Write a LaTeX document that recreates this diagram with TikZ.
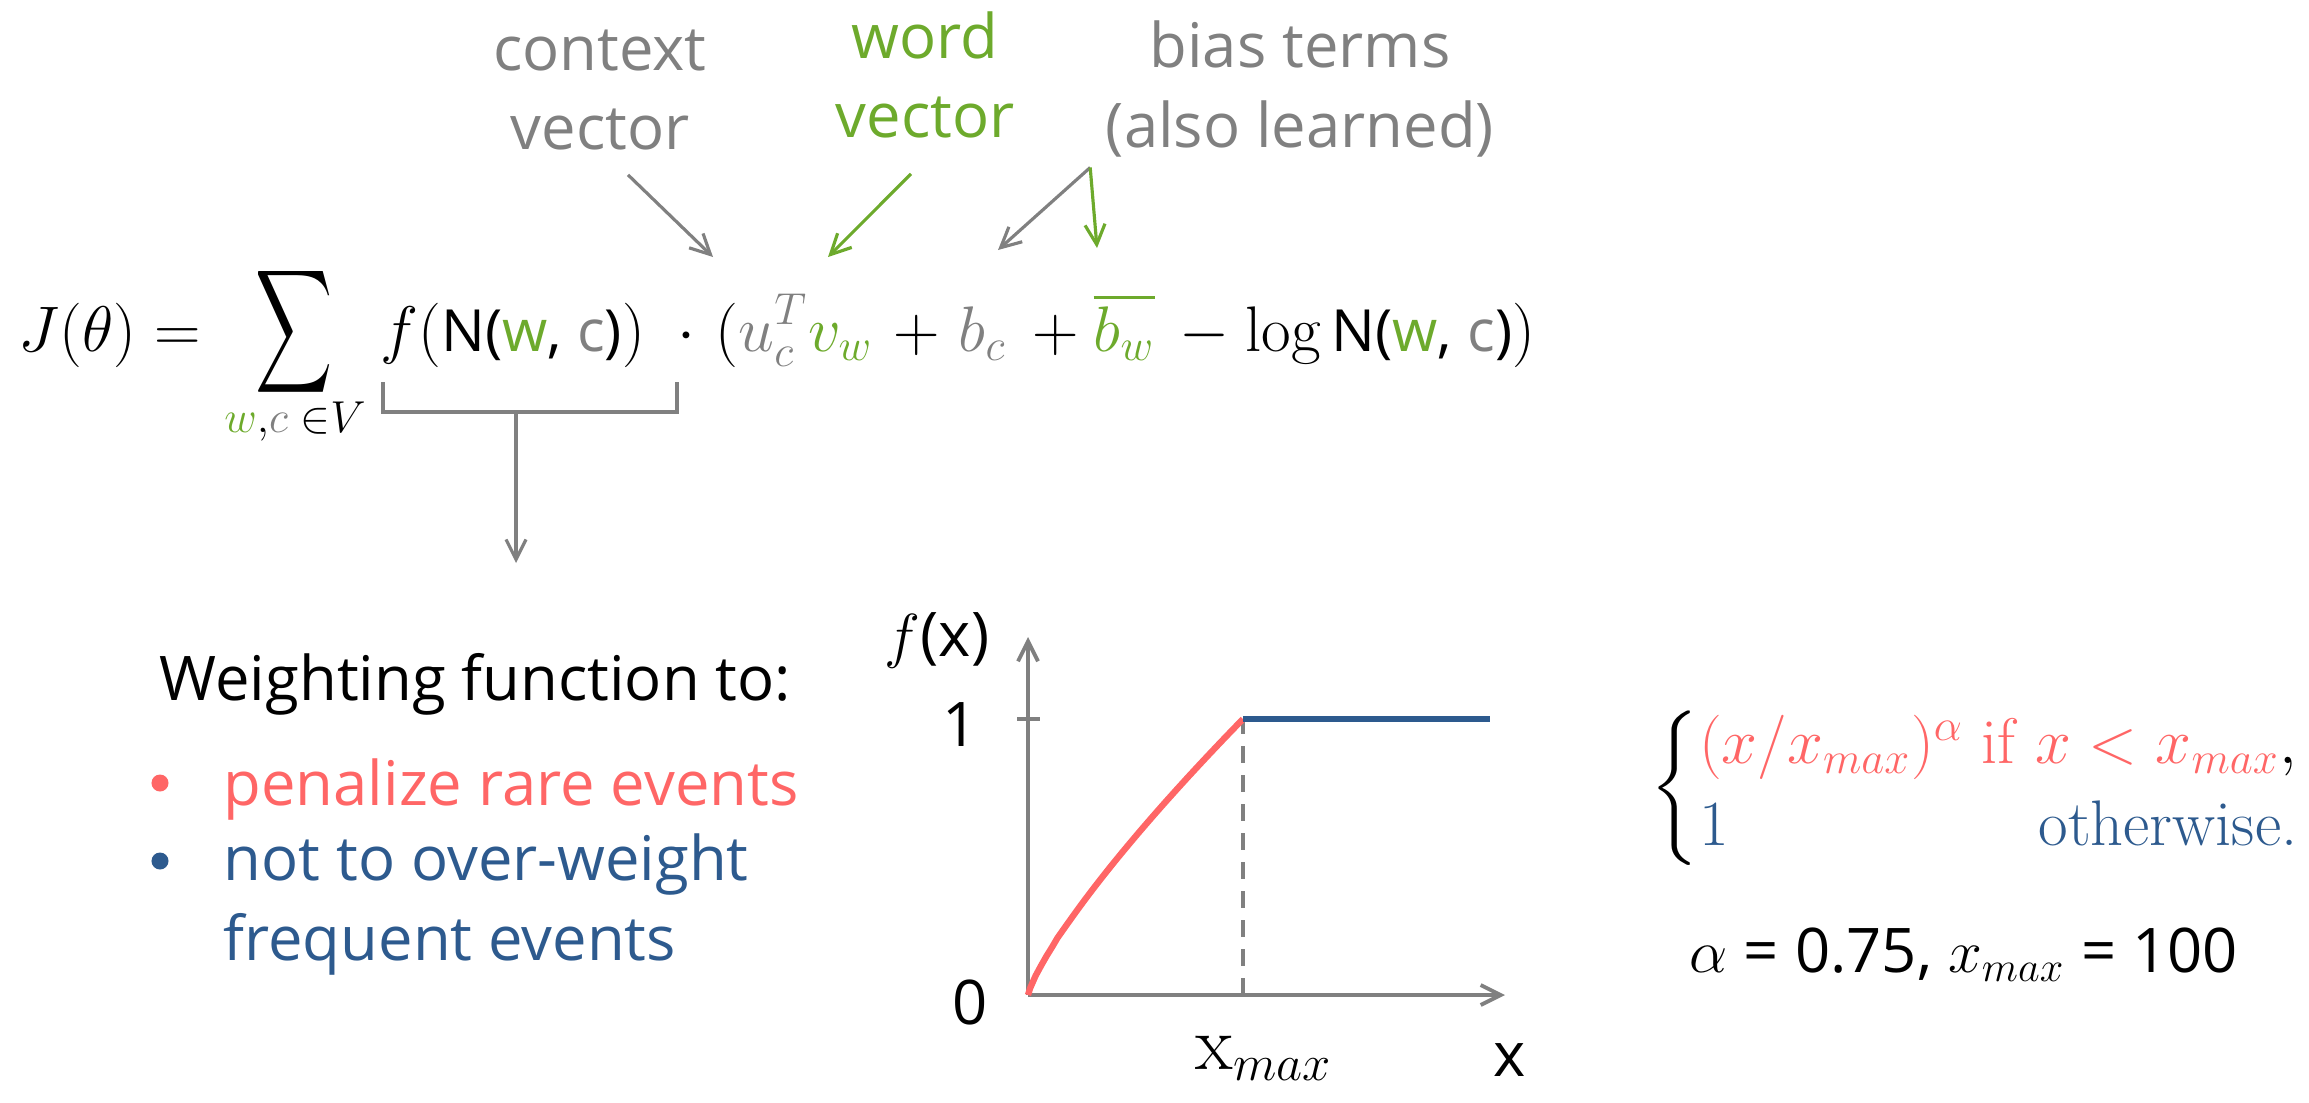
\documentclass[tikz,border=0pt]{standalone}
\usepackage{amsmath,amssymb}
\usepackage{graphicx}
\usepackage{fontspec}
\setsansfont{Open Sans}
\usetikzlibrary{arrows.meta}

\definecolor{wordgreen}{RGB}{109,170,44}
\definecolor{ctxgray}{RGB}{128,128,128}
\definecolor{rarered}{RGB}{255,102,102}
\definecolor{freqblue}{RGB}{45,90,142}

\newcommand{\gw}[1]{\textcolor{wordgreen}{#1}}
\newcommand{\gc}[1]{\textcolor{ctxgray}{#1}}
\newcommand{\nsf}[1]{\text{\fontsize{15.6}{20}\selectfont\sffamily #1}}
\newcommand{\mth}[1]{\scalebox{1.06}{$\displaystyle #1$}}

\begin{document}
\begin{tikzpicture}[
  x=0.01cm,
  y=-0.01cm,
  >={Straight Barb[length=0.2cm,width=0.2cm]},
  every node/.style={font=\fontsize{17.5}{22.5}\selectfont\sffamily, inner sep=0pt},
  eqn/.style={font=\fontsize{17.28}{22}\selectfont, anchor=base west},
  toplabel/.style={align=center, text=ctxgray},
  ptr/.style={->, ctxgray, line width=0.9pt},
  axis/.style={->, ctxgray, line width=1.1pt}
]
\useasboundingbox (0,0) rectangle (2309,1103);

\node[eqn] (lhs) at (18,351) {\mth{J(\theta) =}};
\node[eqn, anchor=center] (sum) at (294,332) {\scalebox{0.88}[1.42]{$\displaystyle\sum$}};
\node[eqn, anchor=base] (lim) at (295,432) {\scalebox{1.06}{$\scriptstyle \gw{w},\gc{c}\;\in V$}};
\node[eqn] (fN) at (380,351) {\mth{f(\nsf{N(\gw{w}, \gc{c})})}};
\node[eqn, anchor=base] (dot) at (686,351) {\mth{\cdot}};
\node[eqn] (uv) at (715,351) {\mth{(\gc{u_c^T}\gw{v_w}}};
\node[eqn, anchor=base] (p1) at (917,351) {\mth{+}};
\node[eqn] (bc) at (958,351) {\mth{\gc{b_c}}};
\node[eqn, anchor=base] (p2) at (1056,351) {\mth{+}};
\node[eqn] (bw) at (1093,351) {\mth{\gw{\overline{b_w}}}};
\node[eqn, anchor=base] (mn) at (1205,351) {\mth{-}};
\node[eqn] (logN) at (1245,351) {\mth{\log\nsf{N(\gw{w}, \gc{c})})}};

\node[toplabel] (ctx) at (600,90) {context\\vector};
\node[toplabel, text=wordgreen] (wrd) at (925,75) {word\\vector};
\node[toplabel] (bias) at (1300,89) {bias terms\\(also learned)};

\coordinate (uT) at (713,257);
\coordinate (vw) at (828,257);
\coordinate (bct) at (998,250);
\coordinate (bwt) at (1097,248);
\draw[ptr] ([xshift=0.28cm,yshift=-0.24cm]ctx.south) -- (uT);
\draw[ptr, wordgreen] ([xshift=-0.14cm,yshift=-0.35cm]wrd.south) -- (vw);
\draw[ptr] ([xshift=-0.15cm,yshift=-0.1cm]bias.south west) -- (bct);
\draw[ptr, wordgreen] ([xshift=-0.15cm,yshift=-0.1cm]bias.south west) -- (bwt);

\coordinate (brl) at (383,382);
\coordinate (brr) at (677,382);
\coordinate (brm) at (516,412);
\coordinate (wtip) at (516,563);
\draw[ctxgray, line width=0.9pt] (brl) -- (383,412) -- (677,412) -- (brr);
\draw[ptr] (brm) -- (wtip);

\node[anchor=base west] (wt) at (159,700) {Weighting function to:};
\node[circle, fill=rarered, minimum size=0.17cm] (b1) at (160,783) {};
\node[anchor=base west, text=rarered] (rare) at (223,805) {penalize rare events};
\node[circle, fill=freqblue, minimum size=0.17cm] (b2) at (160,861) {};
\node[anchor=base west, text=freqblue, align=left] (freq) at (223,960) {not to over-weight\\frequent events};

\coordinate (O) at (1028,995);
\coordinate (ytop) at (1028,637);
\coordinate (xend) at (1505,995);
\coordinate (K) at (1243,719);
\coordinate (Kb) at (1243,995);
\draw[axis] (O) -- (ytop);
\draw[axis] (O) -- (xend);
\draw[ctxgray, line width=1.1pt] (1017,719) -- (1040,719);
\draw[ctxgray, line width=1.1pt, dash pattern=on 0.17cm off 0.12cm] (Kb) -- (K);
\draw[rarered, line width=1.8pt] (O) -- plot[domain=0.01:1, samples=40] ({1028+215*\x},{995-276*\x^0.8});
\draw[freqblue, line width=1.5pt] (K) -- (1490,719);

\node (fx) at (937,640) {$f$(x)};
\node (one) at (960,725) {1};
\node (zero) at (970,1002) {0};
\node[font=\fontsize{22}{26}\selectfont] (xm) at (1264,1058) {$\mathrm{x}_{max}$};
\node (xl) at (1510,1060) {x};

\node[eqn, anchor=west] (cases) at (1650,788)
  {\scalebox{1.06}{$\left\{\begin{array}{@{}l@{\;}r@{}}
    \textcolor{rarered}{(x/x_{max})^{\alpha}} & \textcolor{rarered}{\textrm{if } x < x_{max}}, \\
    \textcolor{freqblue}{1} & \textcolor{freqblue}{\textrm{otherwise.}}
  \end{array}\right.$}};
\node[anchor=base west] (par) at (1689,972) {$\alpha$ = 0.75, $x_{max}$ = 100};
\end{tikzpicture}
\end{document}
